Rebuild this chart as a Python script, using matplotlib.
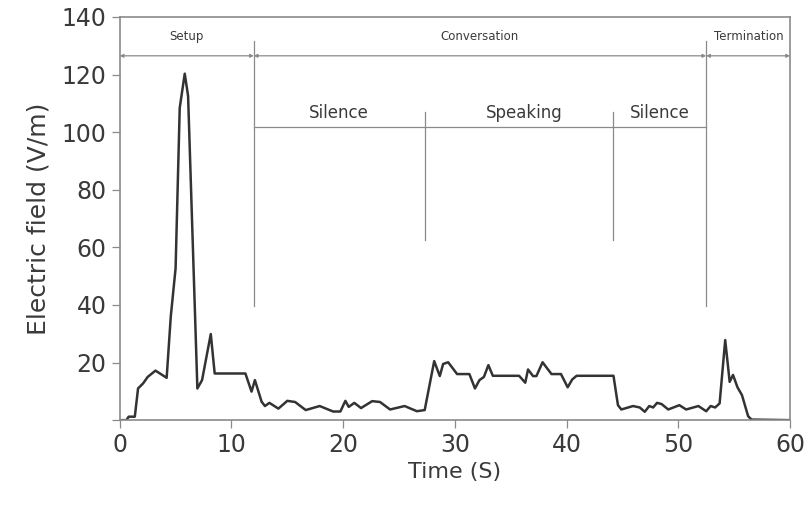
import matplotlib.pyplot as plt

# time (s) and electric field (V/m)
time_s = [0, 0.6, 0.8, 1.35, 1.64, 2.1, 2.5, 3.2, 4.2, 4.57, 5.0, 5.37, 5.82, 6.12,
          6.95, 7.37, 8.15, 8.5, 11.25, 11.8, 12.1, 12.7, 13.0, 13.4, 14.2, 15.0,
          15.7, 16.65, 17.9, 19.1, 19.75, 20.2, 20.5, 21.0, 21.6, 22.6, 23.3, 24.2,
          25.5, 26.6, 27.3, 28.15, 28.65, 28.95, 29.4, 30.2, 31.3, 31.8, 32.2, 32.6,
          33.0, 33.4, 35.75, 36.3, 36.55, 37.0, 37.3, 37.85, 38.65, 39.5, 40.1, 40.5,
          40.9, 44.2, 44.6, 44.9, 45.95, 46.55, 47.0, 47.4, 47.75, 48.1, 48.5, 49.1,
          50.1, 50.7, 51.8, 52.5, 52.9, 53.3, 53.7, 54.2, 54.6, 54.9, 55.3, 55.7,
          56.25, 56.55, 60]
field = [0, 0, 1.2, 1.2, 11, 12.8, 15, 17.2, 14.7, 36, 52.7, 108.4, 120.3, 112.5,
         11, 13.9, 29.9, 16.2, 16.2, 9.9, 13.9, 6.4, 4.9, 6, 4, 6.7,
         6.3, 3.5, 4.9, 3, 3, 6.7, 4.6, 6, 4.2, 6.6, 6.3, 3.7,
         4.9, 3.1, 3.5, 20.5, 15.3, 19.5, 20.1, 16, 16, 11, 13.9, 15,
         19.1, 15.4, 15.4, 13, 17.6, 15.3, 15.3, 20.1, 16, 16, 11.4, 14.1,
         15.4, 15.4, 5.2, 3.7, 4.9, 4.4, 2.9, 4.9, 4.4, 6, 5.6, 3.7,
         5.2, 3.7, 4.9, 3.1, 4.9, 4.4, 5.8, 27.8, 13.3, 15.7, 11.4, 8.7,
         1.4, 0.2, 0]

# call phases (top row) and conversation sub-phases (second row)
phases = ['Setup', 'Conversation', 'Termination']
phase_bounds = [0, 12, 52.5, 60]
phase_label_x = [6, 32.2, 56.3]
subphases = ['Silence', 'Speaking', 'Silence']
sub_bounds = [12, 27.3, 44.2, 52.5]

xticks = [0, 10, 20, 30, 40, 50, 60]
yticks = [0, 20, 40, 60, 80, 100, 120, 140]

grey = '#8a8a8a'
txt = '#3a3a3a'

fig = plt.figure(figsize=(8.09, 5.13), dpi=100)
ax = fig.add_axes([0.148, 0.181, 0.8285, 0.786])

ax.plot(time_s, field, color='#333333', lw=1.8)

# phase arrows
top_y = 126.5
for a, b in zip(phase_bounds[:-1], phase_bounds[1:]):
    ax.annotate('', xy=(a, top_y), xytext=(b, top_y),
                arrowprops=dict(arrowstyle='<|-|>', color=grey, lw=0.9,
                                mutation_scale=5, shrinkA=0, shrinkB=0))
for name, xl in zip(phases, phase_label_x):
    ax.text(xl, 131, name, ha='center', va='bottom', fontsize=8.5, color=txt)

# boundaries of the conversation
for xb in phase_bounds[1:3]:
    ax.plot([xb, xb], [39.5, 131.5], color=grey, lw=0.9)

# sub-phase row
mid_y = 101.7
ax.plot([sub_bounds[0], sub_bounds[-1]], [mid_y, mid_y], color=grey, lw=0.9)
for xb in sub_bounds[1:3]:
    ax.plot([xb, xb], [62.5, 107], color=grey, lw=0.9)
for name, a, b in zip(subphases, sub_bounds[:-1], sub_bounds[1:]):
    ax.text((a + b) / 2 + (0.5 if name == 'Speaking' else 0), 103.5, name,
            ha='center', va='bottom', fontsize=12, color=txt)

ax.set_xlim(0, 60)
ax.set_ylim(0, 140)
ax.set_xticks(xticks)
ax.set_yticks(yticks)
ax.set_yticklabels([''] + [str(v) for v in yticks[1:]])
ax.tick_params(direction='out', length=6, width=0.9, color=grey,
               labelsize=17, labelcolor=txt)
for s in ax.spines.values():
    s.set_color(grey)
    s.set_linewidth(1.2)

ax.set_xlabel('Time (S)', fontsize=16, color=txt, labelpad=3)
ax.set_ylabel('Electric field (V/m)', fontsize=18, color=txt, labelpad=8)

fig.savefig('out.png', dpi=100)
